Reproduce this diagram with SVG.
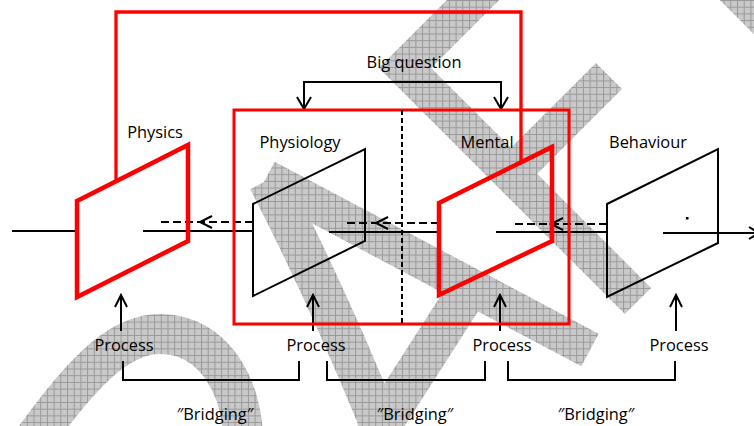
<svg xmlns="http://www.w3.org/2000/svg" width="754" height="426" viewBox="0 0 754 426">
  <defs>
    <pattern id="hatch" width="6.7" height="6.7" patternUnits="userSpaceOnUse">
      <rect width="6.7" height="6.7" fill="#c9c9c9"/>
      <path d="M0 0.5H6.7M0.5 0V6.7" stroke="#999" stroke-width="1"/>
    </pattern>
  </defs>
  <style>
    .wm { fill: none; stroke: url(#hatch); stroke-linecap: butt; stroke-linejoin: miter; }
    .ln { fill: none; stroke: #000; stroke-width: 2; }
    .dash { fill: none; stroke: #000; stroke-width: 2; stroke-dasharray: 8 4; }
    .head { fill: none; stroke: #000; stroke-width: 2; }
    .red { fill: none; stroke: #ff0000; }
    .plate-red { fill: none; stroke: #ff0000; stroke-width: 4.5; stroke-linejoin: miter; }
    .plate { fill: none; stroke: #000; stroke-width: 2; }
    text { font-family: "Open Sans", "Noto Sans", "DejaVu Sans", sans-serif; font-size: 16.4px; fill: #000; text-anchor: middle; }
  </style>
  <rect width="754" height="426" fill="#fff"/>

  <!-- background hatched strokes -->
  <g id="backdrop">
    <path class="wm" stroke-width="40" d="M28 448C88 362 124 334 160 334C214 334 243 388 243 440"/>
    <path class="wm" stroke-width="37" d="M490 -17L405 68L638 301"/>
    <path class="wm" stroke-width="37" d="M609 76L508 177"/>
    <path class="wm" stroke-width="37" d="M700 -46L800 54"/>
    <path class="wm" stroke-width="37" d="M266 178L590 350"/>
    <path class="wm" stroke-width="40" d="M268 180Q330 300 386 440"/>
    <path class="wm" stroke-width="40" d="M372 440L470 287"/>
  </g>

  <!-- connectors -->
  <g id="connectors">
    <!-- loop from Physics over to Mental -->
    <path class="red" stroke-width="3.3" d="M116 181V12H521V162"/>
    <!-- Big question fork -->
    <path class="ln" d="M304 109V82H501V109"/>
    <path class="head" d="M297 97L304 109L311 97M494 97L501 109L508 97"/>
    <!-- main horizontal axis -->
    <path class="ln" d="M12 231H77M143 231H253M329 232H439M496 232H607M663 233H754"/>
    <path class="head" d="M749 227L759 233L749 239"/>
    <!-- dashed return arrows -->
    <path class="dash" d="M253 222H161"/>
    <path class="head" d="M212 216L200 222L212 228"/>
    <path class="dash" d="M439 223H345"/>
    <path class="head" d="M388 217L376 223L388 229"/>
    <path class="dash" d="M607 224H514"/>
    <path class="head" d="M563 218L551 224L563 230"/>
    <!-- process arrows -->
    <path class="ln" d="M121 331V296M313 331V296M500 331V296M676 331V296"/>
    <path class="head" d="M115 307L121 295L127 307M307 307L313 295L319 307M494 307L500 295L506 307M670 307L676 295L682 307"/>
    <!-- bridging brackets -->
    <path class="ln" d="M123 361V380H299V361M327 361V380H485V361M508 361V380H675V361"/>
  </g>

  <!-- shared frame around Physiology and Mental -->
  <g id="frame">
    <rect class="red" stroke-width="3" x="234" y="110" width="335" height="214"/>
    <path class="ln" stroke-dasharray="5 3" d="M402 110V324"/>
  </g>

  <g id="physics">
    <path class="plate-red" d="M77 201L188 145V241L77 297Z"/>
    <text x="155" y="138">Physics</text>
  </g>

  <g id="physiology">
    <path class="plate" d="M253 204L365 149V241L253 296Z"/>
    <text x="300" y="148">Physiology</text>
  </g>

  <g id="mental">
    <path class="plate-red" d="M439 203L552 147V241L439 295Z"/>
    <text x="487" y="148">Mental</text>
  </g>

  <g id="behaviour">
    <path class="plate" d="M607 204L718 149V243L607 297Z"/>
    <rect x="686" y="217" width="2.5" height="2.5" fill="#000"/>
    <text x="648" y="148">Behaviour</text>
  </g>

  <g id="big-question">
    <text x="414" y="68">Big question</text>
  </g>

  <g id="process-labels">
    <text x="124" y="351">Process</text>
    <text x="316" y="351">Process</text>
    <text x="502" y="351">Process</text>
    <text x="679" y="351">Process</text>
  </g>

  <g id="bridging-labels">
    <text x="215" y="420">″Bridging″</text>
    <text x="415" y="420">″Bridging″</text>
    <text x="596" y="420">″Bridging″</text>
  </g>
</svg>
